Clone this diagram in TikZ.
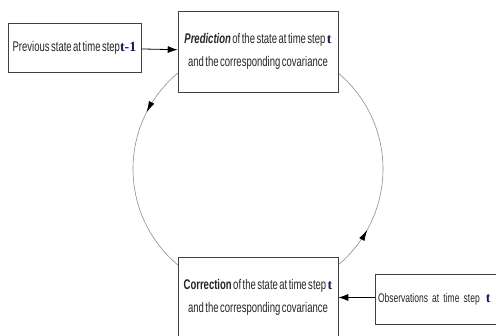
\documentclass[tikz,border=0pt]{standalone}
\usepackage{fontspec}
\setmainfont{Liberation Sans}[FakeStretch=0.68, WordSpace=0.55]
\newfontfamily\tfont{Liberation Serif}
\usepackage{tikz}
\usetikzlibrary{positioning,arrows.meta,decorations.markings}
\definecolor{boxclr}{rgb}{0.25, 0.25, 0.25}
\definecolor{loopclr}{rgb}{0.55, 0.55, 0.55}
\definecolor{tclr}{rgb}{0.08, 0.1, 0.35}
\definecolor{txtclr}{rgb}{0.15, 0.15, 0.15}
\newcommand{\tstep}[1]{{\tfont\fontsize{14}{23}\selectfont\bfseries\color{tclr}#1}}
\tikzset{ %
  ,>={Latex[length=10pt,width=7pt]}
  ,every node/.style={font=\fontsize{14}{23}\selectfont, text=txtclr}
  ,stage/.style={draw=boxclr, line width=0.6pt, fill=white, align=center, minimum width=160pt, minimum height=81pt, inner sep=0}
  ,input/.style={draw=boxclr, line width=0.6pt, fill=white, align=center, minimum height=49pt, inner sep=0}
  ,feed/.style={->, black, line width=0.8pt}
}
\begin{document}
\begin{tikzpicture}[x=1pt, y=1pt]
      \useasboundingbox (0,0) rectangle (496,336);
      \coordinate (hub) at (258,167);
      \draw [loopclr, line width=0.6pt, postaction={decorate},
        decoration={markings,
          mark=at position 0.425 with {\arrow{Latex[length=11pt,width=6pt,black]}},
          mark=at position 0.919 with {\arrow{Latex[length=11pt,width=6pt,black]}}}]
        (hub) circle (125);
      \draw
      node[stage] (pred) at (258,284.5) {\textbf{\textit{Prediction}} of the state at time step \tstep{t}\\and the corresponding covariance}
      node[stage] (corr) at (258,38.5) {\textbf{Correction} of the state at time step \tstep{t}\\and the corresponding covariance}
      node[input, minimum width=133pt] (prev) at (74.5,288.5) {Previous state at time step\tstep{t-1}}
      node[input, minimum width=130pt, minimum height=50pt, text width=124pt, align=left, font=\fontsize{12.5}{23}\selectfont] (obs) at (440,37) {\mbox{Observations at time step\hspace{6pt}\tstep{t}}};
      \draw [feed] (prev) -- (pred);
      \draw [feed] (obs.west |- corr.east) -- (corr.east);
    \end{tikzpicture}
\end{document}
